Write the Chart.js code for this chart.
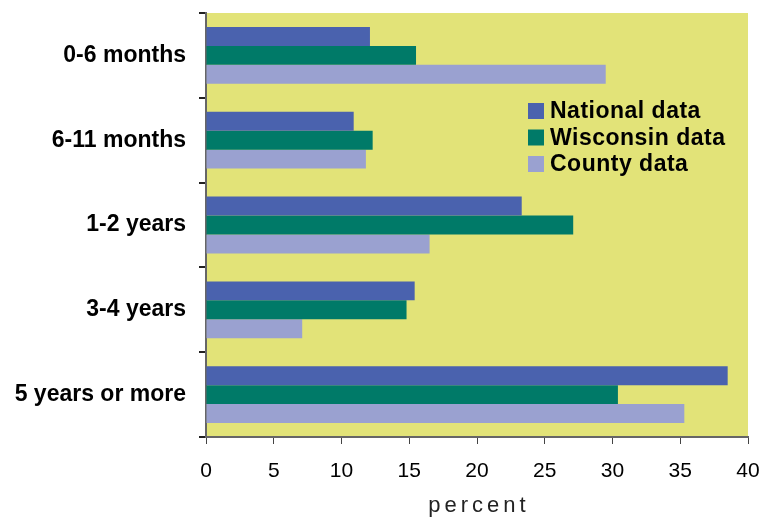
<!DOCTYPE html>
<html>
<head>
<meta charset="utf-8">
<script src="https://cdn.jsdelivr.net/npm/chart.js@4"></script>
<style>
  html, body { margin: 0; padding: 0; background: #fff; }
  #wrap { width: 762px; height: 518px; }
</style>
</head>
<body>
<div id="wrap"><canvas id="ageChart" width="762" height="518"></canvas></div>
<script>
// Données
const categories = ['0-6 months', '6-11 months', '1-2 years', '3-4 years', '5 years or more'];
const nationalData = [12.1, 10.9, 23.3, 15.4, 38.5];
const wisconsinData = [15.5, 12.3, 27.1, 14.8, 30.4];
const countyData = [29.5, 11.8, 16.5, 7.1, 35.3];
const xTicks = [0, 5, 10, 15, 20, 25, 30, 35, 40];
const axisTitle = 'percent';

// Fond jaune de la zone de tracé
const plotBackground = {
    id: 'plotBackground',
    beforeDraw(chart) {
        const { ctx, chartArea: a } = chart;
        ctx.save();
        ctx.fillStyle = '#E2E378';
        ctx.fillRect(a.left, a.top, a.right - a.left, a.bottom - a.top);
        ctx.restore();
    }
};

// Légende dessinée à l'intérieur de la zone de tracé
const innerLegend = {
    id: 'innerLegend',
    afterDraw(chart) {
        const ctx = chart.ctx;
        ctx.save();
        ctx.font = 'bold 23px "Liberation Sans", Arial, sans-serif';
        ctx.letterSpacing = '0.5px';
        ctx.textBaseline = 'middle';
        chart.data.datasets.forEach((ds, i) => {
            const y = 103 + i * 26.5;
            ctx.fillStyle = ds.backgroundColor;
            ctx.fillRect(528, y, 16, 16);
            ctx.fillStyle = '#000';
            ctx.fillText(ds.label, 550, y + 9);
        });
        ctx.restore();
    }
};

// Titre de l'axe x, espacé
const xTitle = {
    id: 'xTitle',
    afterDraw(chart) {
        const ctx = chart.ctx;
        const x = chart.scales.x;
        ctx.save();
        ctx.font = '22px "Liberation Sans", Arial, sans-serif';
        ctx.letterSpacing = '4px';
        ctx.textAlign = 'center';
        ctx.textBaseline = 'middle';
        ctx.fillStyle = '#222';
        ctx.fillText(axisTitle, (x.left + x.right) / 2 + 2, 506);
        ctx.restore();
    }
};

const ctx = document.getElementById('ageChart').getContext('2d');
new Chart(ctx, {
    type: 'bar',
    data: {
        labels: categories,
        datasets: [
            { label: 'National data', data: nationalData, backgroundColor: '#4A62AE' },
            { label: 'Wisconsin data', data: wisconsinData, backgroundColor: '#007A68' },
            { label: 'County data', data: countyData, backgroundColor: '#9AA1D0' }
        ]
    },
    options: {
        indexAxis: 'y',
        responsive: false,
        animation: false,
        categoryPercentage: 0.67,
        barPercentage: 1.0,
        layout: { padding: { left: 0, top: 13, right: 14, bottom: 0 } },
        plugins: {
            legend: { display: false },
            tooltip: { enabled: false }
        },
        scales: {
            x: {
                min: 0,
                max: 40,
                afterBuildTicks: (axis) => { axis.ticks = xTicks.map(v => ({ value: v })); },
                afterFit: (axis) => {
                    axis.height = 81;
                    axis.paddingLeft = 0;
                    axis.paddingRight = 0;
                },
                grid: { drawOnChartArea: false, tickLength: 7, color: '#444', lineWidth: 1 },
                border: { color: '#666', width: 2 },
                ticks: {
                    padding: 15,
                    color: '#000',
                    font: { family: '"Liberation Sans", Arial, sans-serif', size: 21 }
                }
            },
            y: {
                afterFit: (axis) => {
                    axis.width = 206;
                    axis.paddingTop = 0;
                    axis.paddingBottom = 0;
                },
                grid: { drawOnChartArea: false, tickLength: 7, color: '#222', lineWidth: 2, offset: true },
                border: { color: '#666', width: 2 },
                ticks: {
                    padding: 13,
                    color: '#000',
                    font: { family: '"Liberation Sans", Arial, sans-serif', size: 23, weight: 'bold' }
                }
            }
        }
    },
    plugins: [plotBackground, innerLegend, xTitle]
});
</script>
</body>
</html>
